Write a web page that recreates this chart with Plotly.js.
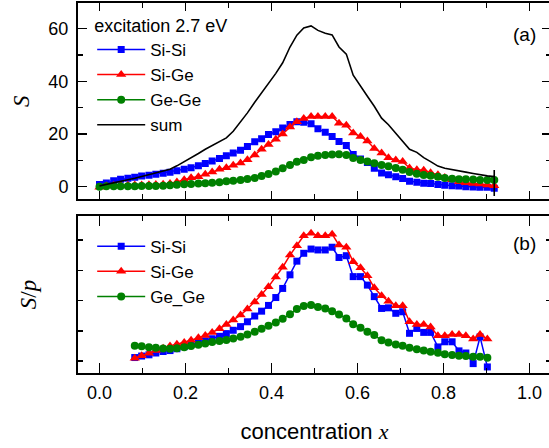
<!DOCTYPE html>
<html>
<head>
<meta charset="utf-8">
<script src="https://cdn.plot.ly/plotly-3.0.1.min.js"></script>
<style>
html,body{margin:0;padding:0;overflow:hidden;background:#fff;}
#chart{width:551px;height:448px;}
</style>
</head>
<body>
<div id="chart"></div>
<script>
// concentration x for panel (a)
const xTop = [0,0.016,0.033,0.049,0.066,0.082,0.098,0.115,0.131,0.148,
  0.164,0.180,0.197,0.213,0.230,0.246,0.262,0.279,0.295,0.311,
  0.328,0.344,0.361,0.377,0.393,0.410,0.426,0.443,0.459,0.475,
  0.492,0.508,0.525,0.541,0.557,0.574,0.590,0.607,0.623,0.639,
  0.656,0.672,0.689,0.705,0.721,0.738,0.754,0.770,0.787,0.803,
  0.820,0.836,0.852,0.869,0.885,0.902,0.918];
// sum line x (ends with a vertical spike at the last point)
const xSum = xTop.concat([0.918, 0.918]);

const sSiSi = [0.8,1.4,2.2,2.8,3.2,3.6,4.0,4.3,4.7,5.1,
  5.5,6.0,6.6,7.2,7.9,8.8,9.7,10.7,11.7,12.8,
  13.8,15.2,17.0,18.2,19.8,20.8,22.3,23.6,24.6,24.4,
  23.9,22.0,20.6,19.0,17.1,15.6,12.2,10.5,9.2,7.0,
  5.2,4.5,3.8,3.1,2.0,1.7,1.3,1.2,0.8,0.5,
  0.3,0.2,0.0,-0.1,-0.2,-0.2,-0.6];
const sSiGe = [-0.2,0.2,0.4,0.5,0.5,0.6,0.6,0.7,0.8,0.9,
  1.2,1.8,2.6,3.4,3.8,4.7,5.6,6.6,7.2,8.1,
  9.0,10.2,12.0,14.2,16.0,18.0,20.0,22.6,24.6,25.9,
  26.6,26.6,26.6,26.6,24.1,23.3,20.4,19.0,17.3,14.5,
  12.8,11.0,10.1,9.5,7.1,6.4,6.2,5.3,4.5,3.5,
  2.6,1.9,1.5,1.2,1.0,0.6,0.3];
const sGeGe = [0.0,0.1,0.1,0.1,0.1,0.1,0.2,0.2,0.2,0.3,
  0.5,0.7,0.9,1.0,1.2,1.3,1.5,1.7,2.0,2.2,
  2.5,2.9,3.3,4.0,4.8,5.7,7.0,8.2,9.4,10.1,
  11.2,11.7,12.0,12.2,12.3,12.0,10.9,10.1,9.5,8.9,
  8.2,7.7,7.1,6.4,5.6,4.9,4.4,4.1,3.8,3.3,
  3.0,2.8,2.8,2.7,2.5,2.5,2.5];
const sSum = [0.3,0.8,1.3,1.9,2.6,3.2,3.9,4.6,5.2,5.9,
  6.6,7.9,9.4,11.0,12.6,14.2,15.6,17.0,18.5,21.0,
  24.5,28.0,32.0,35.5,39.4,43.0,47.0,53.0,57.5,60.2,
  61.0,59.3,58.2,57.6,53.0,50.3,42.3,38.0,34.3,30.5,
  26.0,23.5,20.2,17.5,14.2,13.0,11.0,9.5,7.8,7.0,
  6.4,6.0,5.5,5.0,4.5,4.1,3.8,
  6.3,-3.6];

// concentration x for panel (b)
const xBot = [0.082,0.098,0.115,0.131,0.148,0.164,0.180,0.197,0.213,0.230,
  0.246,0.262,0.279,0.295,0.311,0.328,0.344,0.361,0.377,0.393,
  0.410,0.426,0.443,0.459,0.475,0.492,0.508,0.525,0.541,0.557,
  0.574,0.590,0.607,0.623,0.639,0.656,0.672,0.689,0.705,0.721,
  0.738,0.754,0.770,0.787,0.803,0.820,0.836,0.852,0.869,0.885,
  0.902];
const pSiSi = [0.12,0.17,0.21,0.27,0.32,0.35,0.41,0.48,0.55,0.61,
  0.67,0.74,0.82,0.91,1.02,1.14,1.30,1.49,1.65,1.84,
  2.10,2.40,2.85,3.30,3.56,3.70,3.67,3.67,3.76,3.42,
  3.48,2.79,2.79,2.51,2.13,1.74,1.76,1.58,1.63,0.92,
  1.08,0.95,0.95,0.47,0.64,0.64,0.34,0.27,-0.08,0.80,
  -0.19];
const pSiGe = [0.10,0.18,0.26,0.35,0.43,0.50,0.56,0.62,0.69,0.77,
  0.85,0.95,1.07,1.21,1.36,1.52,1.72,1.95,2.20,2.46,
  2.78,3.10,3.50,3.81,4.14,4.22,4.14,4.14,4.19,3.83,
  3.76,3.28,3.08,2.82,2.42,2.16,1.98,1.83,1.83,1.30,
  1.21,1.21,1.13,0.84,0.84,0.88,0.88,0.84,0.73,0.88,
  0.73];
const pGeGe = [0.51,0.49,0.46,0.44,0.42,0.41,0.43,0.46,0.50,0.54,
  0.58,0.63,0.67,0.70,0.75,0.81,0.88,0.97,1.07,1.17,
  1.28,1.40,1.55,1.72,1.82,1.85,1.79,1.74,1.65,1.54,
  1.41,1.22,1.10,0.97,0.86,0.69,0.62,0.55,0.51,0.44,
  0.39,0.35,0.31,0.28,0.23,0.20,0.18,0.17,0.15,0.15,
  0.11];

const namesTop = ['Si-Si', 'Si-Ge', 'Ge-Ge', 'sum'];
const namesBot = ['Si-Si', 'Si-Ge', 'Ge_Ge'];
const xTickVals = [0, 0.2, 0.4, 0.6, 0.8, 1.0];
const xTickText = ['0.0', '0.2', '0.4', '0.6', '0.8', '1.0'];
const yTickVals = [0, 20, 40, 60];

const BLUE = '#0000ff', RED = '#ff0000', GREEN = '#008000';
const FONT = 'Arial, "Liberation Sans", sans-serif';
const SERIF = '"Times New Roman", "Liberation Serif", serif';

function tr(x, y, name, color, sym, size, xa, ya, lg) {
  return {x: x, y: y, name: name, type: 'scatter', mode: 'lines+markers',
    xaxis: xa, yaxis: ya, legend: lg,
    line: {color: color, width: 1.5},
    marker: {symbol: sym, size: size, color: color, line: {width: 0}}};
}

const data = [
  tr(xTop, sSiSi, namesTop[0], BLUE, 'square', 7, 'x', 'y', 'legend'),
  tr(xTop, sSiGe, namesTop[1], RED, 'triangle-up', 9, 'x', 'y', 'legend'),
  tr(xTop, sGeGe, namesTop[2], GREEN, 'circle', 8, 'x', 'y', 'legend'),
  {x: xSum, y: sSum, name: namesTop[3], type: 'scatter', mode: 'lines',
   xaxis: 'x', yaxis: 'y', legend: 'legend', line: {color: '#000', width: 1.6}},
  tr(xBot, pSiSi, namesBot[0], BLUE, 'square', 7, 'x2', 'y2', 'legend2'),
  tr(xBot, pSiGe, namesBot[1], RED, 'triangle-up', 9, 'x2', 'y2', 'legend2'),
  tr(xBot, pGeGe, namesBot[2], GREEN, 'circle', 8, 'x2', 'y2', 'legend2')
];

const axBase = {showline: true, linecolor: '#000', linewidth: 2, mirror: 'ticks',
  ticks: 'inside', tickcolor: '#000', tickwidth: 1.5, showgrid: false, zeroline: false,
  tickfont: {family: FONT, size: 18, color: '#000'}};

const layout = {
  width: 551, height: 448,
  margin: {l: 78, r: 0, t: 3, b: 75},
  paper_bgcolor: '#fff', plot_bgcolor: '#fff',
  font: {family: FONT, size: 17, color: '#000'},
  showlegend: true,
  xaxis: Object.assign({}, axBase, {domain: [0, 1], anchor: 'y', range: [-0.05, 1.05],
    tickvals: xTickVals, showticklabels: false, ticklen: 8,
    minor: {dtick: 0.1, tick0: 0, ticklen: 5, ticks: 'inside', tickcolor: '#000', tickwidth: 1.5}}),
  yaxis: Object.assign({}, axBase, {domain: [0.4695, 1], anchor: 'x', range: [-4.8, 69.7],
    tickvals: yTickVals, ticklen: 9, ticklabelstandoff: 4,
    minor: {dtick: 10, tick0: 0, ticklen: 5, ticks: 'inside', tickcolor: '#000', tickwidth: 1.5},
    title: {text: '<i>S</i>', font: {family: SERIF, size: 23}, standoff: 12}}),
  xaxis2: Object.assign({}, axBase, {domain: [0, 1], anchor: 'y2', range: [-0.05, 1.05],
    tickvals: xTickVals, ticktext: xTickText, ticklen: 10, ticklabelstandoff: 2,
    minor: {dtick: 0.1, tick0: 0, ticklen: 5, ticks: 'inside', tickcolor: '#000', tickwidth: 1.5},
    title: {text: 'concentration <span style="font-family:' + "'Times New Roman', 'Liberation Serif', serif" + ';font-style:italic">x</span>',
      font: {family: FONT, size: 22}, standoff: 22}}),
  yaxis2: Object.assign({}, axBase, {domain: [0, 0.4243], anchor: 'x2', range: [-0.39, 4.79],
    dtick: 1, tick0: 0, ticklen: 5, showticklabels: false,
    title: {text: '<i>S</i>/<i>p</i>', font: {family: SERIF, size: 23}, standoff: 33}}),
  legend: {x: 0.03, y: 0.985, xanchor: 'left', yanchor: 'top', bgcolor: 'rgba(0,0,0,0)',
    borderwidth: 0, font: {family: FONT, size: 17}, itemwidth: 48,
    title: {text: 'excitation 2.7 eV', font: {family: FONT, size: 18}}},
  legend2: {x: 0.03, y: 0.39, xanchor: 'left', yanchor: 'top', bgcolor: 'rgba(0,0,0,0)',
    borderwidth: 0, font: {family: FONT, size: 17}, itemwidth: 48},
  annotations: [
    {text: '(a)', xref: 'paper', yref: 'paper', x: 0.972, y: 0.9486, showarrow: false,
     font: {family: FONT, size: 19}},
    {text: '(b)', xref: 'paper', yref: 'paper', x: 0.972, y: 0.351, showarrow: false,
     font: {family: FONT, size: 19}}
  ]
};

Plotly.newPlot('chart', data, layout, {displayModeBar: false, staticPlot: true});
</script>
</body>
</html>
